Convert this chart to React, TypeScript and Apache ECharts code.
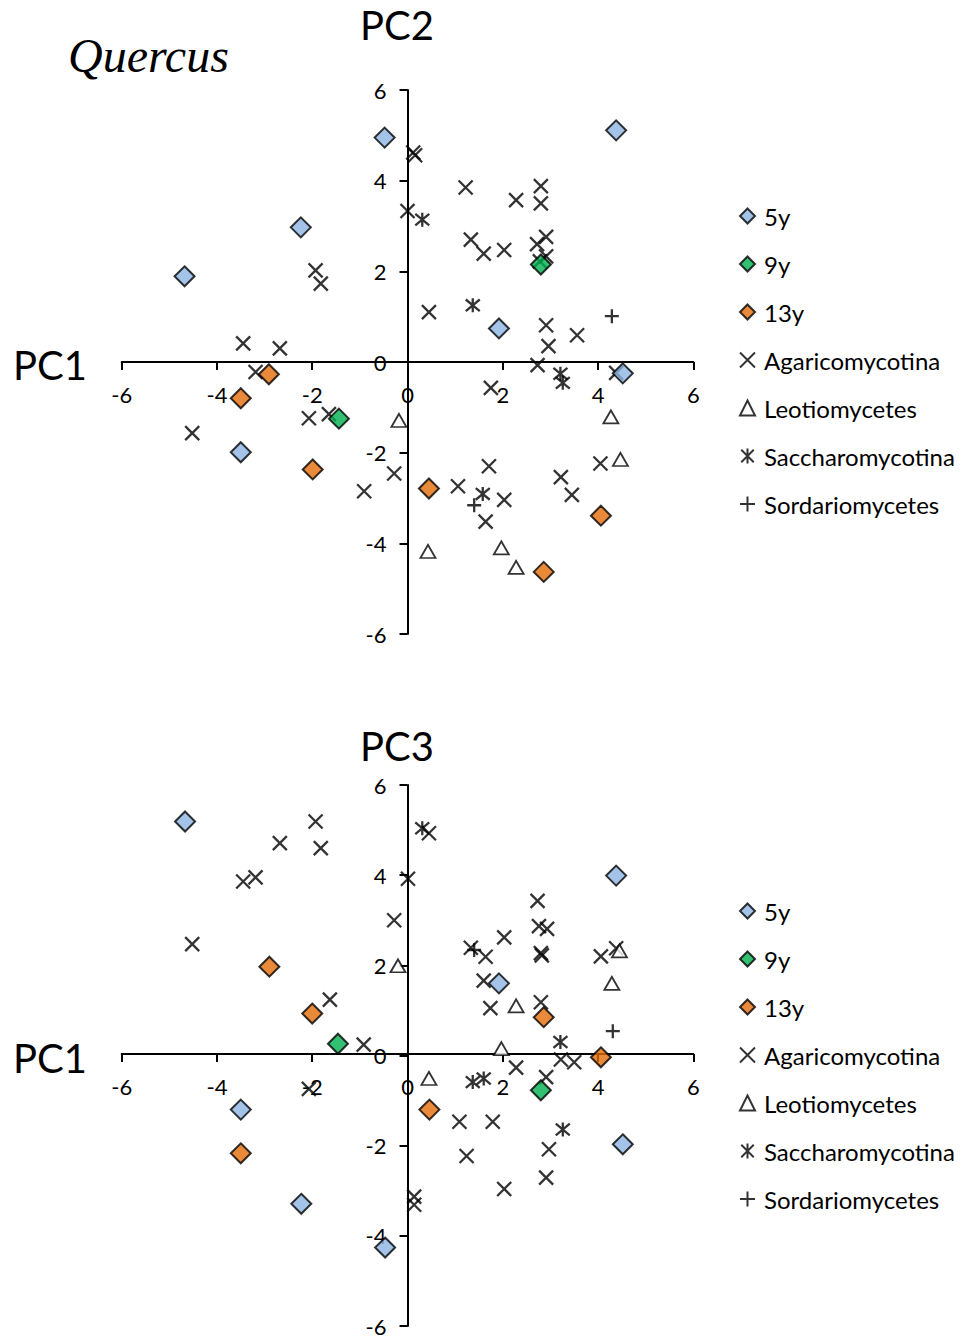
import React, { useEffect, useRef } from "react";
import * as echarts from "echarts";

// ---- Data: PC1 vs PC2 (top panel) ----
const y5_pc12 = [[-0.48, 4.95], [4.38, 5.11], [-2.24, 2.97], [-4.68, 1.89], [1.92, 0.74], [4.52, -0.25], [-3.5, -1.99]];
const y9_pc12 = [[-1.44, -1.25], [2.8, 2.15]];
const y13_pc12 = [[-2.91, -0.27], [-3.5, -0.8], [-1.99, -2.37], [0.45, -2.79], [4.06, -3.39], [2.86, -4.63]];
const agar_pc12 = [
  [-1.93, 2.02], [-1.82, 1.73], [-3.45, 0.41], [-2.68, 0.3], [0.0, 3.33], [0.12, 4.62], [0.16, 4.56],
  [1.22, 3.85], [2.8, 3.88], [2.28, 3.57], [2.8, 3.5], [1.33, 2.7], [1.6, 2.39], [2.03, 2.47],
  [2.91, 2.76], [2.72, 2.6], [2.91, 2.33], [2.78, 2.22], [0.45, 1.1], [2.91, 0.81], [3.56, 0.59],
  [2.96, 0.35], [-3.19, -0.22], [-2.07, -1.24], [-1.65, -1.15], [-4.52, -1.57], [-0.28, -2.46],
  [-0.91, -2.85], [2.73, -0.07], [4.38, -0.24], [1.75, -0.57], [4.05, -2.24], [1.71, -2.3],
  [3.22, -2.54], [3.45, -2.93], [1.06, -2.74], [2.03, -3.04], [1.64, -3.52],
];
const leot_pc12 = [[-0.18, -1.29], [4.27, -1.21], [4.47, -2.15], [0.43, -4.18], [1.97, -4.1], [2.28, -4.53]];
const sacch_pc12 = [[0.31, 3.14], [1.37, 1.25], [3.21, -0.26], [3.26, -0.46], [1.58, -2.91]];
const sord_pc12 = [[4.29, 1.01], [1.4, -3.16]];

// ---- Data: PC1 vs PC3 (bottom panel) ----
const y5_pc13 = [[-4.67, 5.19], [4.38, 3.99], [1.92, 1.6], [-3.5, -1.2], [4.52, -1.97], [-2.23, -3.29], [-0.47, -4.26]];
const y9_pc13 = [[-1.46, 0.26], [2.8, -0.77]];
const y13_pc13 = [[-2.9, 1.97], [-2.0, 0.93], [-3.5, -2.17], [0.46, -1.2], [4.06, -0.04], [2.86, 0.85]];
const agar_pc13 = [
  [-1.93, 5.19], [-2.68, 4.71], [-1.82, 4.6], [-3.45, 3.86], [-3.19, 3.95], [-4.52, 2.47], [-0.28, 3.0],
  [0.01, 3.92], [-1.63, 1.24], [-0.92, 0.24], [-2.07, -0.74], [0.45, 4.93], [2.73, 3.43], [2.76, 2.87],
  [2.93, 2.81], [2.03, 2.62], [1.33, 2.39], [1.64, 2.19], [2.8, 2.27], [2.82, 2.22], [4.06, 2.2],
  [4.38, 2.38], [1.6, 1.66], [1.74, 1.05], [2.8, 1.18], [3.22, -0.09], [3.5, -0.15], [2.28, -0.27],
  [2.91, -0.48], [1.09, -1.47], [1.79, -1.47], [1.24, -2.23], [2.97, -2.08], [2.91, -2.71],
  [2.03, -2.96], [0.14, -3.13], [0.14, -3.31],
];
const leot_pc13 = [[-0.2, 1.99], [4.29, 1.6], [4.45, 2.32], [0.45, -0.51], [1.97, 0.15], [2.28, 1.1]];
const sacch_pc13 = [[0.31, 5.04], [1.37, -0.59], [3.21, 0.3], [3.26, -1.64], [1.6, -0.51]];
const sord_pc13 = [[4.31, 0.54], [1.4, 2.34]];

const legendNames = ["5y", "9y", "13y", "Agaricomycotina", "Leotiomycetes", "Saccharomycotina", "Sordariomycetes"];
const ticks = { min: -6, max: 6, interval: 2 };

const FONT = "Lato";
const CROSS = "path://M0,0L10,10M10,0L0,10";
const STAR = "path://M0,0L10,10M10,0L0,10M5,-1L5,11";
const PLUS = "path://M5,0L5,10M0,5L10,5";

const GRID_W = 571.6;
const GRID_H = 544;

function makeSeries(grid: number, d: any) {
  const base = { type: "scatter", xAxisIndex: grid, yAxisIndex: grid };
  const line = { color: "#000", borderColor: "#000", borderWidth: 2.3 };
  const dia = (c: string) => ({ color: c, borderColor: "#000", borderWidth: 2 });
  return [
    { ...base, name: "Agaricomycotina", data: d.agar, symbol: CROSS, symbolSize: 14, itemStyle: line, z: 2 },
    { ...base, name: "Leotiomycetes", data: d.leot, symbol: "triangle", symbolSize: [15, 13], itemStyle: { color: "#fff", borderColor: "#000", borderWidth: 1.8 }, z: 2 },
    { ...base, name: "Saccharomycotina", data: d.sacch, symbol: STAR, symbolSize: 14, itemStyle: line, z: 2 },
    { ...base, name: "Sordariomycetes", data: d.sord, symbol: PLUS, symbolSize: 14, itemStyle: line, z: 2 },
    { ...base, name: "5y", data: d.y5, symbol: "diamond", symbolSize: 20, itemStyle: dia("#8DB4E2"), z: 3 },
    { ...base, name: "9y", data: d.y9, symbol: "diamond", symbolSize: 20, itemStyle: dia("#00B050"), z: 3 },
    { ...base, name: "13y", data: d.y13, symbol: "diamond", symbolSize: 20, itemStyle: dia("#E36C09"), z: 3 },
  ];
}

function axis(grid: number, offset: number) {
  return {
    gridIndex: grid,
    type: "value",
    ...ticks,
    offset,
    axisLine: { onZero: false, lineStyle: { color: "#000", width: 2 } },
    axisTick: { show: true, length: 8, lineStyle: { color: "#000", width: 2 } },
    axisLabel: { color: "#000", fontSize: 22, fontFamily: FONT, margin: 21 },
    splitLine: { show: false },
  };
}

function legend(top: number) {
  return {
    orient: "vertical",
    left: 734,
    top,
    itemGap: 24,
    itemWidth: 15,
    itemHeight: 15,
    selectedMode: false,
    data: legendNames,
    textStyle: { fontSize: 24, lineHeight: 24, fontFamily: FONT, color: "#000", padding: [0, 0, 0, 4] },
  };
}

export default function App() {
  const ref = useRef<HTMLDivElement>(null);
  useEffect(() => {
    if (!ref.current) return;
    const chart = echarts.init(ref.current, null, { renderer: "svg" });
    const txt = (x: number, y: number, text: string, size: number, extra: any = {}) => ({
      type: "text",
      x,
      y,
      style: { text, fontSize: size, fontFamily: FONT, fill: "#000", align: "center", verticalAlign: "middle", ...extra },
    });
    chart.setOption({
      animation: false,
      backgroundColor: "#fff",
      grid: [
        { left: 121.7, top: 90, width: GRID_W, height: GRID_H },
        { left: 121.7, top: 785, width: GRID_W, height: GRID_H },
      ],
      xAxis: [axis(0, -GRID_H / 2), axis(1, -GRID_H / 2)],
      yAxis: [axis(0, -GRID_W / 2), axis(1, -GRID_W / 2)],
      legend: [legend(199), legend(894)],
      graphic: [
        txt(68, 55, "Quercus", 48, { fontFamily: "Liberation Serif", fontStyle: "italic", align: "left" }),
        txt(397, 25, "PC2", 40),
        txt(50, 365, "PC1", 40),
        txt(397, 746, "PC3", 40),
        txt(50, 1058, "PC1", 40),
      ],
      series: [
        ...makeSeries(0, { y5: y5_pc12, y9: y9_pc12, y13: y13_pc12, agar: agar_pc12, leot: leot_pc12, sacch: sacch_pc12, sord: sord_pc12 }),
        ...makeSeries(1, { y5: y5_pc13, y9: y9_pc13, y13: y13_pc13, agar: agar_pc13, leot: leot_pc13, sacch: sacch_pc13, sord: sord_pc13 }),
      ],
    });
    return () => chart.dispose();
  }, []);
  return (
    <div
      ref={ref}
      style={{ position: "absolute", left: 0, top: 0, width: 977, height: 1337, background: "#fff" }}
    />
  );
}
